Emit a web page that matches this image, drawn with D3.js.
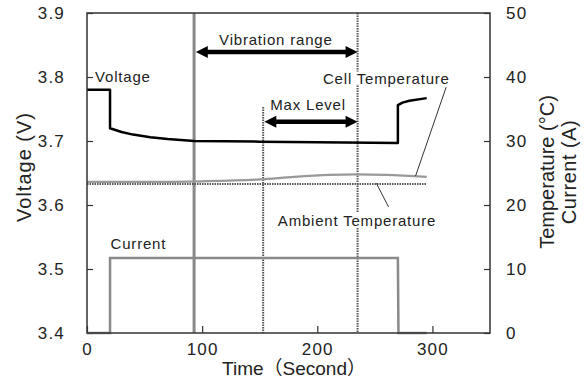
<!DOCTYPE html>
<html>
<head>
<meta charset="utf-8">
<script src="https://cdn.jsdelivr.net/npm/d3@7"></script>
<style>
  html, body { margin: 0; padding: 0; background: #fff; }
  svg { display: block; }
  text { font-family: "Liberation Sans", Arial, "Noto Sans CJK JP", sans-serif; fill: #222; }
</style>
</head>
<body>
<svg id="chart" width="585" height="385"></svg>
<script>
// Battery voltage, temperatures and current during a vibration test
const voltage = [
  [0, 3.780], [20, 3.780], [20, 3.720], [30, 3.714], [40, 3.710], [55, 3.706],
  [70, 3.703], [93, 3.700], [150, 3.699], [200, 3.698], [270, 3.697],
  [270, 3.756], [274, 3.760], [280, 3.763], [295, 3.767]
];
const cellTemp = [
  [0, 23.6], [50, 23.6], [100, 23.7], [150, 24.0], [180, 24.4], [210, 24.7],
  [235, 24.8], [260, 24.7], [295, 24.4]
];
const ambientTemp = [[0, 23.3], [295, 23.3]];
const current = [[0, 0], [20, 0], [20, 11.7], [270, 11.7], [270.5, 0], [295, 0]];

// Test phases (seconds)
const vibrationStart = 93;
const maxLevelStart = 153;
const vibrationEnd = 235;

const timeTicks = [0, 100, 200, 300];
const voltTicks = [3.4, 3.5, 3.6, 3.7, 3.8, 3.9];
const rightTicks = [0, 10, 20, 30, 40, 50];

const svg = d3.select("#chart");
const plotL = 87, plotR = 490, plotT = 13, plotB = 333;

const x = d3.scaleLinear().domain([0, 350]).range([plotL, plotR]);
const yV = d3.scaleLinear().domain([3.4, 3.9]).range([plotB, plotT]);
const yR = d3.scaleLinear().domain([0, 50]).range([plotB, plotT]);

const tickFont = g => g.selectAll("text")
  .style("font-size", "17px").style("letter-spacing", "1.2px").attr("fill", "#222");

// Axes with inward ticks
svg.append("g").attr("transform", `translate(${plotL},0)`)
  .call(d3.axisLeft(yV).tickValues(voltTicks).tickFormat(d3.format(".1f"))
    .tickSizeInner(-6).tickSizeOuter(0).tickPadding(22))
  .call(g => g.select(".domain").remove())
  .call(g => g.selectAll("line").attr("stroke", "#333").attr("stroke-width", 1.2))
  .call(tickFont);

svg.append("g").attr("transform", `translate(${plotR},0)`)
  .call(d3.axisRight(yR).tickValues(rightTicks)
    .tickSizeInner(-6).tickSizeOuter(0).tickPadding(16))
  .call(g => g.select(".domain").remove())
  .call(g => g.selectAll("line").attr("stroke", "#333").attr("stroke-width", 1.2))
  .call(tickFont);

svg.append("g").attr("transform", `translate(0,${plotB})`)
  .call(d3.axisBottom(x).tickValues(timeTicks)
    .tickSizeInner(-7).tickSizeOuter(0).tickPadding(10))
  .call(g => g.select(".domain").remove())
  .call(g => g.selectAll("line").attr("stroke", "#333").attr("stroke-width", 1.2))
  .call(tickFont);

// Axis titles
svg.append("text").attr("transform", "translate(24,167) rotate(-90)")
  .attr("text-anchor", "middle").attr("dy", "0.35em")
  .style("font-size", "20px").style("letter-spacing", "1px").text("Voltage (V)");
svg.append("text").attr("transform", "translate(547,172) rotate(-90)")
  .attr("text-anchor", "middle").attr("dy", "0.35em")
  .style("font-size", "20px").text("Temperature (°C)");
svg.append("text").attr("transform", "translate(569,172) rotate(-90)")
  .attr("text-anchor", "middle").attr("dy", "0.35em")
  .style("font-size", "20px").style("letter-spacing", "0.5px").text("Current  (A)");
svg.append("text").attr("x", 294).attr("y", 375)
  .attr("text-anchor", "middle")
  .style("font-size", "19px").text("Time（Second）");

// Phase markers
svg.append("line")
  .attr("x1", x(vibrationStart)).attr("x2", x(vibrationStart))
  .attr("y1", yV(3.9)).attr("y2", yV(3.4))
  .attr("stroke", "#888").attr("stroke-width", 3);
svg.append("line")
  .attr("x1", x(maxLevelStart)).attr("x2", x(maxLevelStart))
  .attr("y1", yV(3.753)).attr("y2", yV(3.4))
  .attr("stroke", "#555").attr("stroke-width", 2).attr("stroke-dasharray", "1.5,1");
svg.append("line")
  .attr("x1", x(vibrationEnd)).attr("x2", x(vibrationEnd))
  .attr("y1", yV(3.9)).attr("y2", yV(3.4))
  .attr("stroke", "#555").attr("stroke-width", 2).attr("stroke-dasharray", "1.5,1");

// Series
const lineV = d3.line().x(d => x(d[0])).y(d => yV(d[1]));
const lineR = d3.line().x(d => x(d[0])).y(d => yR(d[1]));

svg.append("path").datum(current).attr("d", lineR)
  .attr("fill", "none").attr("stroke", "#8a8a8a").attr("stroke-width", 2.5);
svg.append("path").datum(ambientTemp).attr("d", lineR)
  .attr("fill", "none").attr("stroke", "#555").attr("stroke-width", 2)
  .attr("stroke-dasharray", "1.5,1");
svg.append("path").datum(cellTemp)
  .attr("d", d3.line().x(d => x(d[0])).y(d => yR(d[1])).curve(d3.curveMonotoneX))
  .attr("fill", "none").attr("stroke", "#999").attr("stroke-width", 2.2);
svg.append("path").datum(voltage).attr("d", lineV)
  .attr("fill", "none").attr("stroke", "#000").attr("stroke-width", 2.5)
  .attr("stroke-linejoin", "round");

// Double-headed range arrows
function doubleArrow(t0, t1, v) {
  const x0 = x(t0), x1 = x(t1), yy = yV(v);
  const head = 12, half = 6, shaft = 2.3;
  const pts = [
    [x0, yy], [x0 + head, yy - half], [x0 + head, yy - shaft], [x1 - head, yy - shaft],
    [x1 - head, yy - half], [x1, yy], [x1 - head, yy + half], [x1 - head, yy + shaft],
    [x0 + head, yy + shaft], [x0 + head, yy + half]
  ];
  svg.append("polygon").attr("points", pts.map(p => p.join(",")).join(" "))
    .attr("fill", "#000");
}
doubleArrow(vibrationStart + 1.5, vibrationEnd, 3.839);
doubleArrow(maxLevelStart + 1, vibrationEnd, 3.730);

// Labels (white backing cuts the marker lines behind them)
function label(txt, t, yy, anchor, pad) {
  const g = svg.append("g");
  const el = g.append("text").attr("x", x(t)).attr("y", yy)
    .attr("dy", "0.35em").attr("text-anchor", anchor)
    .style("font-size", "15px").style("letter-spacing", "0.8px").text(txt);
  if (pad) {
    const b = el.node().getBBox();
    g.insert("rect", "text").attr("x", b.x - 1).attr("y", b.y + pad)
      .attr("width", b.width + 2).attr("height", b.height - 2 * pad).attr("fill", "#fff");
  }
}
label("Vibration range", 164, yV(3.858), "middle", 0);
label("Max Level", 192, yV(3.756), "middle", 0);
label("Voltage", 7, yV(3.8), "start", 0);
label("Current", 20.5, yR(14.0), "start", 0);
label("Cell Temperature", 260, yR(39.8), "middle", 2);
label("Ambient Temperature", 234.5, yR(17.6), "middle", 0.5);

// Leader lines
svg.append("line").attr("x1", x(311.9)).attr("y1", yR(38.4))
  .attr("x2", x(285.3)).attr("y2", yR(24.5)).attr("stroke", "#333").attr("stroke-width", 1);
svg.append("line").attr("x1", x(251.3)).attr("y1", yR(23.4))
  .attr("x2", x(261.9)).attr("y2", yR(19.7)).attr("stroke", "#333").attr("stroke-width", 1);

// Plot frame
svg.append("rect").attr("x", plotL).attr("y", plotT)
  .attr("width", plotR - plotL).attr("height", plotB - plotT)
  .attr("fill", "none").attr("stroke", "#333").attr("stroke-width", 1.5);
</script>
</body>
</html>
